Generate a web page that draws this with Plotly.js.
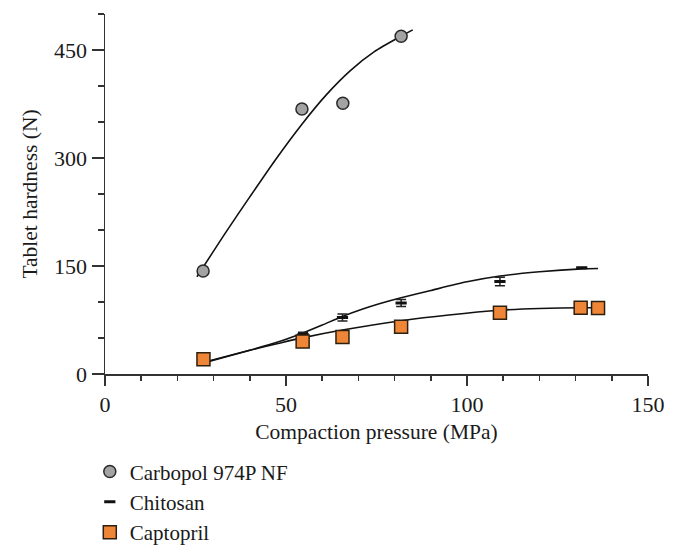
<!DOCTYPE html>
<html>
<head>
<meta charset="utf-8">
<script src="https://cdn.plot.ly/plotly-3.0.1.min.js"></script>
<style>
html,body{margin:0;padding:0;background:#fff;}
#chart{width:676px;height:555px;}
</style>
</head>
<body>
<div id="chart"></div>
<script>
// Measured data points
const carbopolX = [27.1, 54.4, 65.7, 81.8];
const carbopolY = [143, 368, 376, 469];

const chitosanX = [27.2, 54.7, 65.6, 81.8, 109.1, 131.7];
const chitosanY = [16, 55, 78.5, 98.6, 128.5, 147.5];
const chitosanErr = [0, 3, 5, 5, 6, 0.5];

const captoprilX = [27.2, 54.6, 65.6, 81.8, 109.1, 131.4, 136.2];
const captoprilY = [20.4, 45, 51.4, 65.7, 85.2, 92.1, 91.7];

// Trend curves
const carbopolFitX = [25.4, 33, 40, 47, 54.4, 61, 67.7, 74.5, 81.7, 85];
const carbopolFitY = [135, 194, 246, 297, 347, 387, 421, 448, 469, 478];

const chitosanFitX = [27, 40, 47.5, 54.7, 60, 65.6, 71, 76, 81.8, 90, 100, 109.1, 120, 131.7, 136.2];
const chitosanFitY = [15, 33, 44, 57, 68, 80, 90, 98, 106, 116, 128, 136, 142, 146, 146.5];

const captoprilFitX = [27, 40, 47.5, 54.8, 65.6, 81.8, 95, 109.1, 120, 131.7, 136.2];
const captoprilFitY = [16, 33, 42, 50.5, 61, 74, 82, 88.5, 91, 92, 92];

const seriesNames = ['Carbopol 974P NF', 'Chitosan', 'Captopril'];
const xTitle = 'Compaction pressure (MPa)';
const yTitle = 'Tablet hardness (N)';

const FONT = 'Liberation Serif, Times New Roman, serif';
const AX = '#333333';
const TXT = '#1a1a1a';

const fitLine = {color: '#111', width: 1.6, shape: 'spline', smoothing: 0.6};

const traces = [
  {x: carbopolFitX, y: carbopolFitY, mode: 'lines', line: fitLine, showlegend: false, hoverinfo: 'skip'},
  {x: chitosanFitX, y: chitosanFitY, mode: 'lines', line: fitLine, showlegend: false, hoverinfo: 'skip'},
  {x: captoprilFitX, y: captoprilFitY, mode: 'lines', line: fitLine, showlegend: false, hoverinfo: 'skip'},
  {x: carbopolX, y: carbopolY, mode: 'markers', name: seriesNames[0],
   marker: {symbol: 'circle', size: 12, color: '#a3a3a3', line: {color: '#2a2a2a', width: 1.5}}},
  {x: chitosanX, y: chitosanY, mode: 'markers', name: seriesNames[1],
   marker: {symbol: 'line-ew', size: 8, color: '#111', line: {color: '#111', width: 3}},
   error_y: {type: 'data', array: chitosanErr, visible: true, width: 5, thickness: 1.5, color: '#222'}},
  {x: captoprilX, y: captoprilY, mode: 'markers', name: seriesNames[2],
   marker: {symbol: 'square', size: 13, color: '#ef8536', line: {color: '#2e2010', width: 1.5}}}
];

const layout = {
  width: 676, height: 555,
  margin: {l: 105, r: 28, t: 14, b: 181, autoexpand: false},
  paper_bgcolor: '#fff', plot_bgcolor: '#fff',
  font: {family: FONT, size: 22, color: TXT},
  showlegend: true,
  legend: {x: -0.028, xanchor: 'left', y: -0.215, yanchor: 'top', orientation: 'v',
           font: {family: FONT, size: 21, color: TXT}, bgcolor: 'rgba(0,0,0,0)', tracegroupgap: 0},
  xaxis: {
    range: [0, 150], dtick: 50, tick0: 0,
    ticks: 'outside', ticklen: 10, tickwidth: 1.5, tickcolor: AX,
    showline: true, linecolor: AX, linewidth: 1.5,
    showgrid: false, zeroline: false,
    minor: {dtick: 10, tick0: 0, ticks: 'outside', ticklen: 5, tickwidth: 1.5, tickcolor: AX, showgrid: false},
    tickfont: {family: FONT, size: 22, color: TXT},
    title: {text: xTitle, font: {family: FONT, size: 21.5, color: TXT}, standoff: 8}
  },
  yaxis: {
    range: [0, 500], dtick: 150, tick0: 0,
    ticks: 'outside', ticklen: 12, tickwidth: 1.5, tickcolor: AX,
    showline: true, linecolor: AX, linewidth: 1.5,
    showgrid: false, zeroline: false,
    minor: {dtick: 50, tick0: 0, ticks: 'outside', ticklen: 6, tickwidth: 1.5, tickcolor: AX, showgrid: false},
    tickfont: {family: FONT, size: 22, color: TXT},
    title: {text: yTitle, font: {family: FONT, size: 21.5, color: TXT}, standoff: 10}
  }
};

Plotly.newPlot('chart', traces, layout, {displayModeBar: false, staticPlot: true});
</script>
</body>
</html>
